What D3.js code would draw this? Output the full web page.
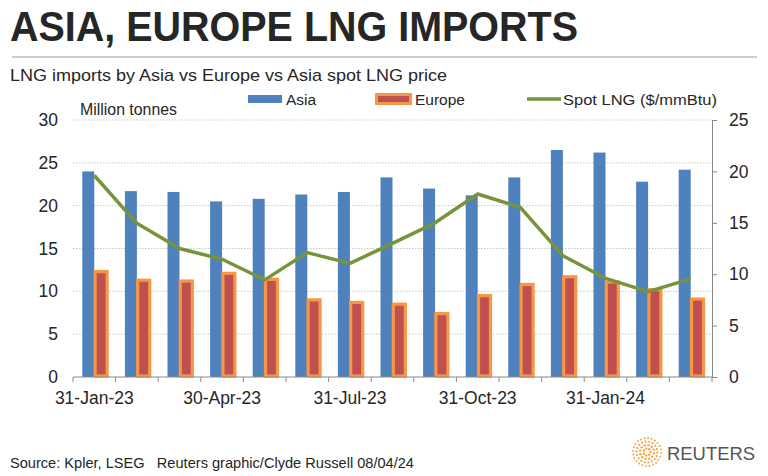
<!DOCTYPE html>
<html>
<meta charset="utf-8">
<head>
  <title>Asia, Europe LNG imports</title>
</head>
<style>
body { margin: 0; background: #fff; }
text { font-family: "Liberation Sans", Arial, sans-serif; fill: #262626; }
</style>
<body>
<svg width="768" height="476"></svg>
<script src="https://cdnjs.cloudflare.com/ajax/libs/d3/7.8.5/d3.min.js"></script>
<script>
// month-end dates, one bar pair per month
var months = ["31-Jan-23","28-Feb-23","31-Mar-23","30-Apr-23","31-May-23","30-Jun-23",
              "31-Jul-23","31-Aug-23","30-Sep-23","31-Oct-23","30-Nov-23","31-Dec-23",
              "31-Jan-24","29-Feb-24","31-Mar-24"];
var asia   = [24.0,21.7,21.6,20.5,20.8,21.3,21.6,23.3,22.0,21.2,23.3,26.5,26.2,22.8,24.2];
var europe = [12.3,11.3,11.2,12.1,11.4,9.0,8.7,8.5,7.4,9.5,10.8,11.7,11.1,10.2,9.1];
var spot   = [19.6,14.95,12.5,11.45,9.45,12.1,11.05,13.0,15.0,17.8,16.5,11.8,9.6,8.3,9.55];
var leftTicks  = [0,5,10,15,20,25,30];
var rightTicks = [0,5,10,15,20,25];
var labelledMonths = ["31-Jan-23","30-Apr-23","31-Jul-23","31-Oct-23","31-Jan-24"];

var svg = d3.select("svg");
var plotL = 73, plotR = 712, plotT = 120, plotB = 377;

var x = d3.scaleBand().domain(months).range([plotL, plotR]).padding(0);
var y = d3.scaleLinear().domain([0, 30]).range([plotB, plotT]);
var y2 = d3.scaleLinear().domain([0, 25]).range([plotB, plotT]);

// title block
svg.append("text").attr("x", 10).attr("y", 41)
  .attr("font-size", 43).attr("font-weight", "bold")
  .attr("textLength", 568).attr("lengthAdjust", "spacingAndGlyphs")
  .text("ASIA, EUROPE LNG IMPORTS");
svg.append("line").attr("x1", 12).attr("x2", 757).attr("y1", 57).attr("y2", 57)
  .attr("stroke", "#bdbdbd").attr("stroke-width", 1.5);
svg.append("text").attr("x", 10).attr("y", 81).attr("font-size", 17)
  .attr("textLength", 437).attr("lengthAdjust", "spacingAndGlyphs")
  .text("LNG imports by Asia vs Europe vs Asia spot LNG price");

// legend
svg.append("rect").attr("x", 248).attr("y", 95).attr("width", 34).attr("height", 8).attr("fill", "#4f81bd");
svg.append("text").attr("x", 286).attr("y", 105).attr("font-size", 15.5).text("Asia");
svg.append("rect").attr("x", 376.5).attr("y", 94.5).attr("width", 34).attr("height", 9)
  .attr("fill", "#c0504d").attr("stroke", "#f79646").attr("stroke-width", 3);
svg.append("text").attr("x", 415).attr("y", 105).attr("font-size", 15.5).text("Europe");
svg.append("line").attr("x1", 527).attr("x2", 561).attr("y1", 99).attr("y2", 99)
  .attr("stroke", "#77933c").attr("stroke-width", 3.5);
svg.append("text").attr("x", 563).attr("y", 105).attr("font-size", 15.5)
  .attr("textLength", 154).attr("lengthAdjust", "spacingAndGlyphs")
  .text("Spot LNG ($/mmBtu)");

svg.append("text").attr("x", 80).attr("y", 115).attr("font-size", 16)
  .attr("textLength", 97).attr("lengthAdjust", "spacingAndGlyphs")
  .text("Million tonnes");

// gridlines
svg.append("g").selectAll("line").data(leftTicks.filter(function(d) { return d > 0; }))
  .enter().append("line")
  .attr("x1", plotL).attr("x2", plotR)
  .attr("y1", function(d) { return y(d); }).attr("y2", function(d) { return y(d); })
  .attr("stroke", "#c8c8c8").attr("stroke-dasharray", "1.5,1.5");

// left axis labels
svg.append("g").selectAll("text").data(leftTicks).enter().append("text")
  .attr("x", 58).attr("y", function(d) { return y(d) + 6; })
  .attr("text-anchor", "end").attr("font-size", 17.5)
  .text(function(d) { return d; });

// right axis
var ra = svg.append("g").attr("transform", "translate(" + plotR + ",0)")
  .call(d3.axisRight(y2).tickValues(rightTicks).tickSize(5).tickPadding(12));
ra.select(".domain").attr("stroke", "#888");
ra.selectAll(".tick line").attr("stroke", "#888");
ra.selectAll(".tick text").attr("font-size", 17.5).attr("fill", "#262626")
  .attr("font-family", "Liberation Sans, Arial, sans-serif");

// bars
var bw = 12;
svg.append("g").selectAll("rect").data(asia).enter().append("rect")
  .attr("x", function(d, i) { return x(months[i]) + x.bandwidth() / 2 - bw; })
  .attr("y", function(d) { return y(d); })
  .attr("width", bw)
  .attr("height", function(d) { return plotB - y(d); })
  .attr("fill", "#4f81bd");

svg.append("g").selectAll("rect").data(europe).enter().append("rect")
  .attr("x", function(d, i) { return x(months[i]) + x.bandwidth() / 2 + 0.8; })
  .attr("y", function(d) { return y(d); })
  .attr("width", bw)
  .attr("height", function(d) { return plotB - y(d) - 1; })
  .attr("fill", "#c0504d").attr("stroke", "#f79646").attr("stroke-width", 3.2);

// bottom axis
svg.append("line").attr("x1", plotL).attr("x2", plotR).attr("y1", plotB).attr("y2", plotB)
  .attr("stroke", "#888");
svg.append("g").selectAll("line").data(d3.range(months.length + 1)).enter().append("line")
  .attr("x1", function(i) { return plotL + i * x.step(); })
  .attr("x2", function(i) { return plotL + i * x.step(); })
  .attr("y1", plotB).attr("y2", plotB + 5)
  .attr("stroke", "#888");
svg.append("g").selectAll("text").data(labelledMonths).enter().append("text")
  .attr("x", function(d) { return x(d) + x.bandwidth() / 2; })
  .attr("y", 404).attr("text-anchor", "middle").attr("font-size", 17.5)
  .text(function(d) { return d; });

// spot price line
var line = d3.line()
  .x(function(d, i) { return x(months[i]) + x.bandwidth() / 2; })
  .y(function(d) { return y2(d); });
svg.append("path").datum(spot).attr("d", line)
  .attr("fill", "none").attr("stroke", "#77933c").attr("stroke-width", 3.5)
  .attr("stroke-linejoin", "round");

// footer
svg.append("text").attr("x", 10).attr("y", 468).attr("font-size", 14.5)
  .style("white-space", "pre")
  .attr("textLength", 404).attr("lengthAdjust", "spacingAndGlyphs")
  .text("Source: Kpler, LSEG   Reuters graphic/Clyde Russell 08/04/24");

// reuters mark: rings of dots, slightly twisted
var logo = svg.append("g").attr("transform", "translate(647,452)");
[[3.5, 7, 1.2, 0], [7, 12, 1.2, 0.2], [10.5, 18, 1.1, 0.4], [14, 24, 1.0, 0.6]].forEach(function(r) {
  logo.selectAll(null).data(d3.range(r[1])).enter().append("circle")
    .attr("cx", function(k) { return r[0] * Math.cos(k / r[1] * 2 * Math.PI + r[3]); })
    .attr("cy", function(k) { return r[0] * Math.sin(k / r[1] * 2 * Math.PI + r[3]); })
    .attr("r", r[2]).attr("fill", "#f29b35").attr("opacity", 0.9);
});
svg.append("text").attr("x", 667).attr("y", 460).attr("font-size", 17.5)
  .attr("textLength", 88).attr("lengthAdjust", "spacingAndGlyphs")
  .style("fill", "#555")
  .text("REUTERS");
</script>
</body>
</html>
